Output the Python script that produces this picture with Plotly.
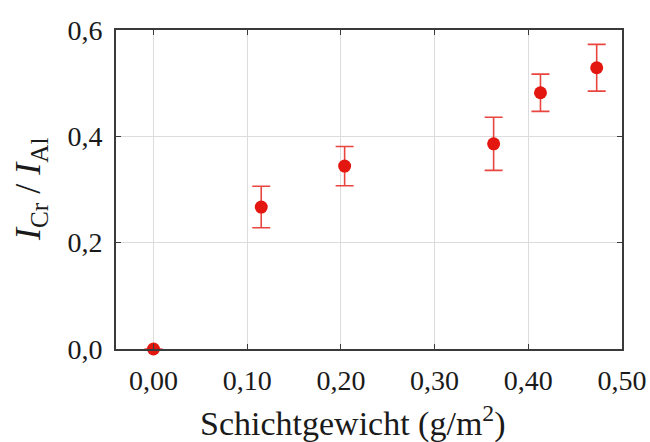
import plotly.graph_objects as go

schichtgewicht = [0.0, 0.115, 0.204, 0.363, 0.413, 0.473]
intensity_ratio = [0.0, 0.267, 0.344, 0.386, 0.482, 0.529]
ratio_error = [0.0, 0.039, 0.037, 0.050, 0.035, 0.044]
x_ticks = [0.0, 0.1, 0.2, 0.3, 0.4, 0.5]
y_ticks = [0.0, 0.2, 0.4, 0.6]
x_title = "Schichtgewicht (g/m<sup>2</sup>)"
y_title = "<i>I</i><sub>Cr</sub> / <i>I</i><sub>Al</sub>"

red = "#e3170f"
font_family = "Liberation Serif, DejaVu Serif, serif"
text_color = "#1a1a1a"

fig = go.Figure(go.Scatter(
    x=schichtgewicht, y=intensity_ratio, mode="markers",
    marker=dict(color=red, size=13),
    error_y=dict(type="data", array=ratio_error, visible=True,
                 color="rgba(227,23,15,0.8)", thickness=1.6, width=9),
    cliponaxis=False,
))

axis_common = dict(
    showline=True, linecolor="#3a3a3a", linewidth=1.6, mirror="ticks",
    ticks="inside", ticklen=5, tickwidth=1.4, tickcolor="#3a3a3a",
    showgrid=True, gridcolor="#dcdcdc", gridwidth=1.2, zeroline=False,
    tickfont=dict(family=font_family, size=28, color=text_color),
    automargin=False,
)

fig.update_layout(
    width=650, height=442,
    margin=dict(l=116, r=28, t=30, b=93),
    paper_bgcolor="white", plot_bgcolor="white",
    separators=",.",
    showlegend=False,
    xaxis=dict(range=[-0.04, 0.50], tickvals=x_ticks, tickformat=".2f",
               ticklabelstandoff=6, **axis_common),
    yaxis=dict(range=[0, 0.6], tickvals=y_ticks, tickformat=".1f",
               ticklabelstandoff=6, **axis_common),
    annotations=[
        dict(text=x_title, xref="paper", yref="paper",
             x=(353 - 116) / 506, y=-(421 - 349) / 319,
             xanchor="center", yanchor="middle", showarrow=False,
             font=dict(family=font_family, size=34, color=text_color)),
        dict(text=y_title, xref="paper", yref="paper",
             x=-(116 - 31) / 506, y=(349 - 190) / 319, textangle=-90,
             xanchor="center", yanchor="middle", showarrow=False,
             font=dict(family=font_family, size=36, color=text_color)),
    ],
)

fig.write_html("out.html", config={"displayModeBar": False},
               post_script="document.body.style.margin='0';")
